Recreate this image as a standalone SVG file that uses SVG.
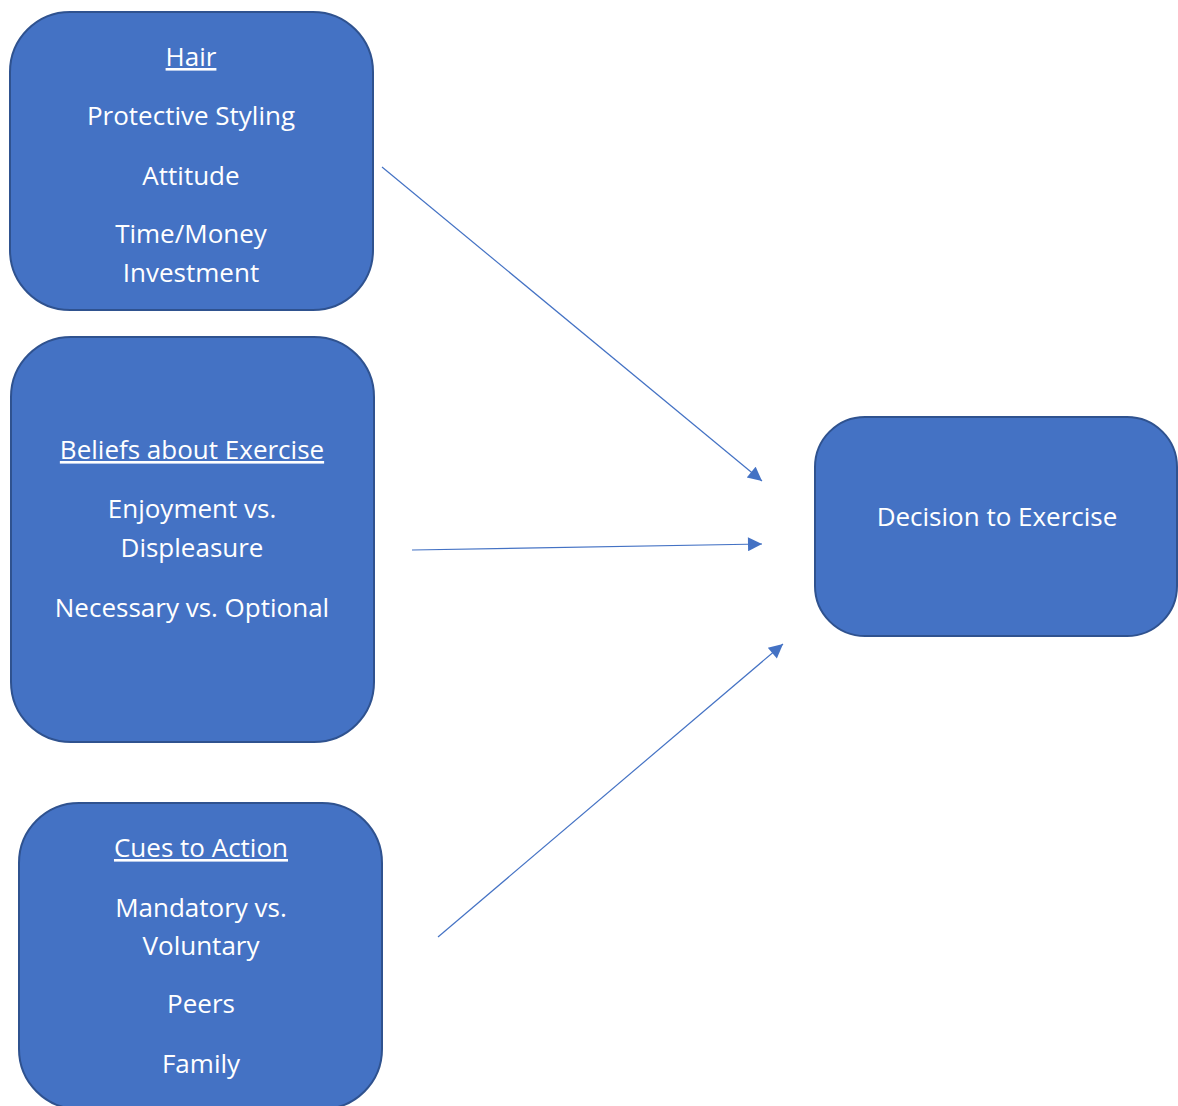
<svg xmlns="http://www.w3.org/2000/svg" width="1178" height="1106" viewBox="0 0 1178 1106">
<style>
.box{fill:#4472C4;stroke:#2F528F;stroke-width:2}
.t{fill:#ffffff;font-family:"Open Sans","Liberation Sans",sans-serif;font-size:26px;text-anchor:middle}
.u{text-decoration:underline}
.c{fill:none;stroke:#4472C4;stroke-width:1.2}
</style>
<defs>
<marker id="ah" viewBox="0 0 10 10" refX="10" refY="5" markerUnits="userSpaceOnUse" markerWidth="16" markerHeight="14" orient="auto">
<path d="M0,0 L10,5 L0,10 Z" fill="#4472C4"/>
</marker>
</defs>
<g id="hair">
<rect class="box" x="10" y="12" width="363" height="298" rx="60" ry="60"/>
<text class="t u" x="191" y="66">Hair</text>
<text class="t" x="191" y="125">Protective Styling</text>
<text class="t" x="191" y="185">Attitude</text>
<text class="t" x="191" y="243">Time/Money</text>
<text class="t" x="191" y="282">Investment</text>
</g>
<g id="beliefs">
<rect class="box" x="11" y="337" width="363" height="405" rx="60" ry="60"/>
<text class="t u" x="192" y="459">Beliefs about Exercise</text>
<text class="t" x="192" y="518">Enjoyment vs.</text>
<text class="t" x="192" y="557">Displeasure</text>
<text class="t" x="192" y="617">Necessary vs. Optional</text>
</g>
<g id="cues">
<rect class="box" x="19" y="803" width="363" height="306" rx="60" ry="60"/>
<text class="t u" x="201" y="857">Cues to Action</text>
<text class="t" x="201" y="917">Mandatory vs.</text>
<text class="t" x="201" y="955">Voluntary</text>
<text class="t" x="201" y="1013">Peers</text>
<text class="t" x="201" y="1073">Family</text>
</g>
<g id="decision">
<rect class="box" x="815" y="417" width="362" height="219" rx="50" ry="50"/>
<text class="t" x="997" y="526">Decision to Exercise</text>
</g>
<g id="connectors">
<line class="c" x1="382" y1="167" x2="762" y2="481" marker-end="url(#ah)"/>
<line class="c" x1="412" y1="550" x2="762" y2="544" marker-end="url(#ah)"/>
<line class="c" x1="438" y1="937" x2="783" y2="644" marker-end="url(#ah)"/>
</g>
</svg>
